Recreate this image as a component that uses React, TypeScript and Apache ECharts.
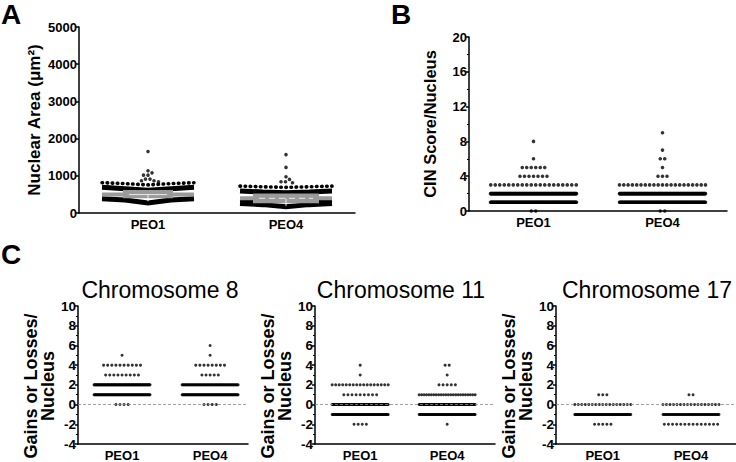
import { useEffect, useRef } from "react";
import * as echarts from "echarts";

const FONT = "'Liberation Sans', Arial, Helvetica, sans-serif";

// ---------------- data ----------------
const groupLabels = ["PEO1", "PEO4"];

// Panel A – Nuclear area (µm²)
const areaOutliersPEO1 = [1653, 1134, 1080, 1018, 1018, 911, 911, 866, 866, 839];
const areaOutliersPEO4 = [1570, 1225, 973, 903, 840, 840, 812];
// dense bands, values read left edge → centre → right edge
const areaDotRowPEO1 = [815, 790, 755, 790, 815];
const areaDotRowPEO4 = [722, 705, 690, 705, 722];
const areaUpperBandPEO1 = [690, 650, 610, 650, 690];
const areaUpperBandPEO4 = [590, 565, 545, 565, 590];
const areaMiddleBandPEO4 = [360, 345, 335, 345, 360];
const areaLowerBandPEO1 = [385, 350, 270, 350, 385];
const areaLowerBandPEO4 = [255, 225, 165, 225, 255];
const areaMean = [495, 395];
const areaSDLow = [395, 265];
const areaSDHigh = [615, 525];

// Panel B – CIN score per nucleus (value → count)
const cinValues = [0, 1, 2, 3, 4, 5, 6, 7, 8, 9];
const cinPEO1 = [2, 150, 150, 20, 7, 6, 1, 0, 1, 0];
const cinPEO4 = [2, 130, 150, 21, 3, 1, 2, 1, 0, 1];

// Panel C – gains or losses per nucleus (value → count)
const chrValues = [-2, -1, 0, 1, 2, 3, 4, 5, 6];
const chr8PEO1 = [0, 0, 4, 80, 80, 9, 10, 1, 0];
const chr8PEO4 = [0, 0, 4, 80, 60, 5, 8, 1, 1];
const chr11PEO1 = [4, 80, 80, 9, 17, 1, 1, 0, 0];
const chr11PEO4 = [1, 80, 80, 24, 5, 1, 2, 0, 0];
const chr17PEO1 = [5, 80, 17, 3, 0, 0, 0, 0, 0];
const chr17PEO4 = [14, 60, 17, 2, 0, 0, 0, 0, 0];

// ---------------- layout ----------------
const grids = [
  { left: 79, top: 27, width: 276, height: 186 }, // A
  { left: 469, top: 37, width: 258, height: 174 }, // B
  { left: 78, top: 306, width: 170, height: 140 }, // C8
  { left: 315, top: 306, width: 180, height: 140 }, // C11
  { left: 556, top: 306, width: 180, height: 140 }, // C17
];
const xRanges = [
  [0.5, 2.5],
  [0.5, 2.5],
  [0.5, 2.43],
  [0.48, 2.55],
  [0.47, 2.51],
];
const unitPx = (i: number) => grids[i].width / (xRanges[i][1] - xRanges[i][0]);
const BAND_X = [-1, -0.5, 0, 0.5, 1];

function rows(values: number[], counts: number[], center: number, gi: number, s: number, wmax: number) {
  const u = unitPx(gi);
  const pts: number[][] = [];
  values.forEach((v, k) => {
    const n = counts[k];
    if (!n) return;
    const sp = n > 1 ? Math.min(s, wmax / (n - 1)) : 0;
    for (let i = 0; i < n; i++) pts.push([center + ((i - (n - 1) / 2) * sp) / u, v]);
  });
  return pts;
}

function swarm(values: number[], center: number, gi: number, pxPerVal: number, d: number) {
  const u = unitPx(gi);
  const placed: number[][] = [];
  const out: number[][] = [];
  values.forEach((v) => {
    const y = v * pxPerVal;
    let x = 0;
    outer: for (let k = 0; k < 200; k++) {
      const cands = k === 0 ? [0] : [k * 0.5, -k * 0.5];
      for (const c of cands) {
        if (placed.every(([px, py]) => (px - c) ** 2 + (py - y) ** 2 >= d * d)) {
          x = c;
          break outer;
        }
      }
    }
    placed.push([x, y]);
    out.push([center + x / u, v]);
  });
  return out;
}

function band(vals: number[], center: number, halfPx: number, gi: number) {
  const u = unitPx(gi);
  return vals.map((v, i) => [center + (BAND_X[i] * halfPx) / u, v]);
}

const axisColor = "#000";
function yAxis(
  gi: number, min: number, max: number, interval: number, name: string, nameGap: number,
  fontSize: number, nameSize: number, minor: boolean, namePadding: number[] = [0, 0, 0, 0], lineHeight?: number
) {
  return {
    type: "value",
    gridIndex: gi,
    min,
    max,
    interval,
    name,
    nameLocation: "middle",
    nameGap,
    nameTextStyle: {
      fontFamily: FONT, fontWeight: "bold", fontSize: nameSize, color: "#000",
      lineHeight: lineHeight ?? nameSize + 2, padding: namePadding,
    },
    axisLine: { show: true, onZero: false, lineStyle: { color: axisColor, width: 1.5 } },
    axisTick: { show: true, length: 3, lineStyle: { color: axisColor, width: 1.5 } },
    minorTick: { show: minor, splitNumber: 2, length: 2, lineStyle: { color: axisColor, width: 1 } },
    axisLabel: {
      fontFamily: FONT, fontWeight: "bold", fontSize, color: "#000", margin: 2,
      formatter: (v: number) => String(v),
    },
    splitLine: { show: false },
    minorSplitLine: { show: false },
  };
}
function xAxis(gi: number, fontSize: number) {
  return {
    type: "value",
    gridIndex: gi,
    min: xRanges[gi][0],
    max: xRanges[gi][1],
    axisLine: { show: true, onZero: false, lineStyle: { color: axisColor, width: 1.5 } },
    axisTick: { show: false },
    splitLine: { show: false },
    axisLabel: {
      customValues: [1, 2],
      formatter: (v: number) => (Math.abs(v - 1) < 1e-6 ? groupLabels[0] : Math.abs(v - 2) < 1e-6 ? groupLabels[1] : ""),
      fontFamily: FONT,
      fontWeight: "bold",
      fontSize,
      color: "#000",
      margin: 5,
    },
  };
}

function dots(gi: number, data: number[][], size: number, extra: any = {}) {
  return {
    type: "scatter",
    xAxisIndex: gi,
    yAxisIndex: gi,
    data,
    symbol: "circle",
    symbolSize: size,
    itemStyle: { color: "#000" },
    silent: true,
    ...extra,
  };
}
function line(gi: number, data: number[][], style: any, z = 2) {
  return {
    type: "line",
    xAxisIndex: gi,
    yAxisIndex: gi,
    data,
    symbol: "none",
    silent: true,
    z,
    lineStyle: style,
  };
}

const pxPerAreaVal = grids[0].height / 5000;

function buildOption() {
  const series: any[] = [];
  // ---- Panel A ----
  const A = 0;
  const half = 46;
  [1, 2].forEach((c, g) => {
    const dotRow = g === 0 ? areaDotRowPEO1 : areaDotRowPEO4;
    const upper = g === 0 ? areaUpperBandPEO1 : areaUpperBandPEO4;
    const lower = g === 0 ? areaLowerBandPEO1 : areaLowerBandPEO4;
    series.push(line(A, band(dotRow, c, half, A), { color: "#000", width: 3.6, type: [0.5, 4.6], cap: "round" }));
    series.push(line(A, band(upper, c, half, A), { color: "#000", width: 5 }));
    if (g === 1) series.push(line(A, band(areaMiddleBandPEO4, c, half, A), { color: "#000", width: 5 }));
    series.push(line(A, band(lower, c, half, A), { color: "#000", width: 5, join: "miter" }));
    const u = unitPx(A);
    series.push(line(A, [[c - half / u, areaMean[g]], [c + half / u, areaMean[g]]], { color: "#9a9a9a", width: 4 }, 3));
    const boxHalf = g === 0 ? 25 : 33;
    series.push(line(A, [[c, areaSDLow[g]], [c, areaSDHigh[g]]], { color: "#9a9a9a", width: boxHalf * 2, cap: "butt" }, 3));
    series.push(line(A, [[c - (boxHalf - 6) / u, areaMean[g]], [c + (boxHalf - 6) / u, areaMean[g]]], { color: "#fff", width: 0.8, type: g === 1 ? [6, 4] : "solid" }, 4));
    series.push(line(A, [[c, areaSDLow[g] - 80], [c, areaMean[g]]], { color: "#fff", width: 0.8 }, 4));
    const outl = g === 0 ? areaOutliersPEO1 : areaOutliersPEO4;
    series.push(dots(A, swarm(outl, c, A, pxPerAreaVal, 4.3), 3.6, { z: 5 }));
  });

  // ---- Panel B ----
  series.push(dots(1, rows(cinValues, cinPEO1, 1, 1, 4.5, 86), 3.6));
  series.push(dots(1, rows(cinValues, cinPEO4, 2, 1, 4.5, 86), 3.6));

  // ---- Panel C ----
  const cSets = [
    [chr8PEO1, chr8PEO4],
    [chr11PEO1, chr11PEO4],
    [chr17PEO1, chr17PEO4],
  ];
  cSets.forEach((pair, k) => {
    const gi = 2 + k;
    series.push({
      type: "line",
      xAxisIndex: gi,
      yAxisIndex: gi,
      data: [],
      silent: true,
      z: 1,
      markLine: {
        silent: true,
        symbol: "none",
        label: { show: false },
        lineStyle: { type: [3, 2], color: "#8a8a8a", width: 0.8 },
        data: [{ yAxis: 0 }],
      },
    });
    series.push(dots(gi, rows(chrValues, pair[0], 1, gi, 4.1, 56), 3, { z: 3 }));
    series.push(dots(gi, rows(chrValues, pair[1], 2, gi, 4.1, 56), 3, { z: 3 }));
  });

  const cName = "Gains or Losses/\nNucleus";
  return {
    animation: false,
    backgroundColor: "#fff",
    grid: grids.map((g) => ({ ...g, containLabel: false })),
    xAxis: [xAxis(0, 13), xAxis(1, 13), xAxis(2, 13), xAxis(3, 13), xAxis(4, 13)],
    yAxis: [
      yAxis(0, 0, 5000, 1000, "Nuclear Area (μm²)", 35, 13, 17, false),
      yAxis(1, 0, 20, 4, "CIN Score/Nucleus", 30, 13, 16.5, true),
      yAxis(2, -4, 10, 2, cName, 14, 13.5, 18, true, [0, 22, 0, 0], 17),
      yAxis(3, -4, 10, 2, cName, 14, 13.5, 18, true, [0, 22, 0, 0], 17),
      yAxis(4, -4, 10, 2, cName, 14, 13.5, 18, true, [0, 22, 0, 0], 17),
    ],
    graphic: [
      { type: "text", x: 1, y: 0, style: { text: "A", fontFamily: FONT, fontSize: 28, fontWeight: "bold", fill: "#000" } },
      { type: "text", x: 391, y: 0, style: { text: "B", fontFamily: FONT, fontSize: 28, fontWeight: "bold", fill: "#000" } },
      { type: "text", x: 1, y: 240, style: { text: "C", fontFamily: FONT, fontSize: 28, fontWeight: "bold", fill: "#000" } },
      { type: "text", x: 160, y: 278, style: { text: "Chromosome 8", fontFamily: FONT, fontSize: 23, fill: "#000", align: "center" } },
      { type: "text", x: 401, y: 278, style: { text: "Chromosome 11", fontFamily: FONT, fontSize: 23, fill: "#000", align: "center" } },
      { type: "text", x: 647, y: 278, style: { text: "Chromosome 17", fontFamily: FONT, fontSize: 23, fill: "#000", align: "center" } },
    ],
    series,
  };
}

export default function App() {
  const ref = useRef<HTMLDivElement>(null);
  useEffect(() => {
    document.body.style.margin = "0";
    const chart = echarts.init(ref.current!, null, { renderer: "svg", width: 736, height: 462 });
    chart.setOption(buildOption() as any);
    return () => chart.dispose();
  }, []);
  return <div ref={ref} style={{ width: 736, height: 462 }} />;
}
